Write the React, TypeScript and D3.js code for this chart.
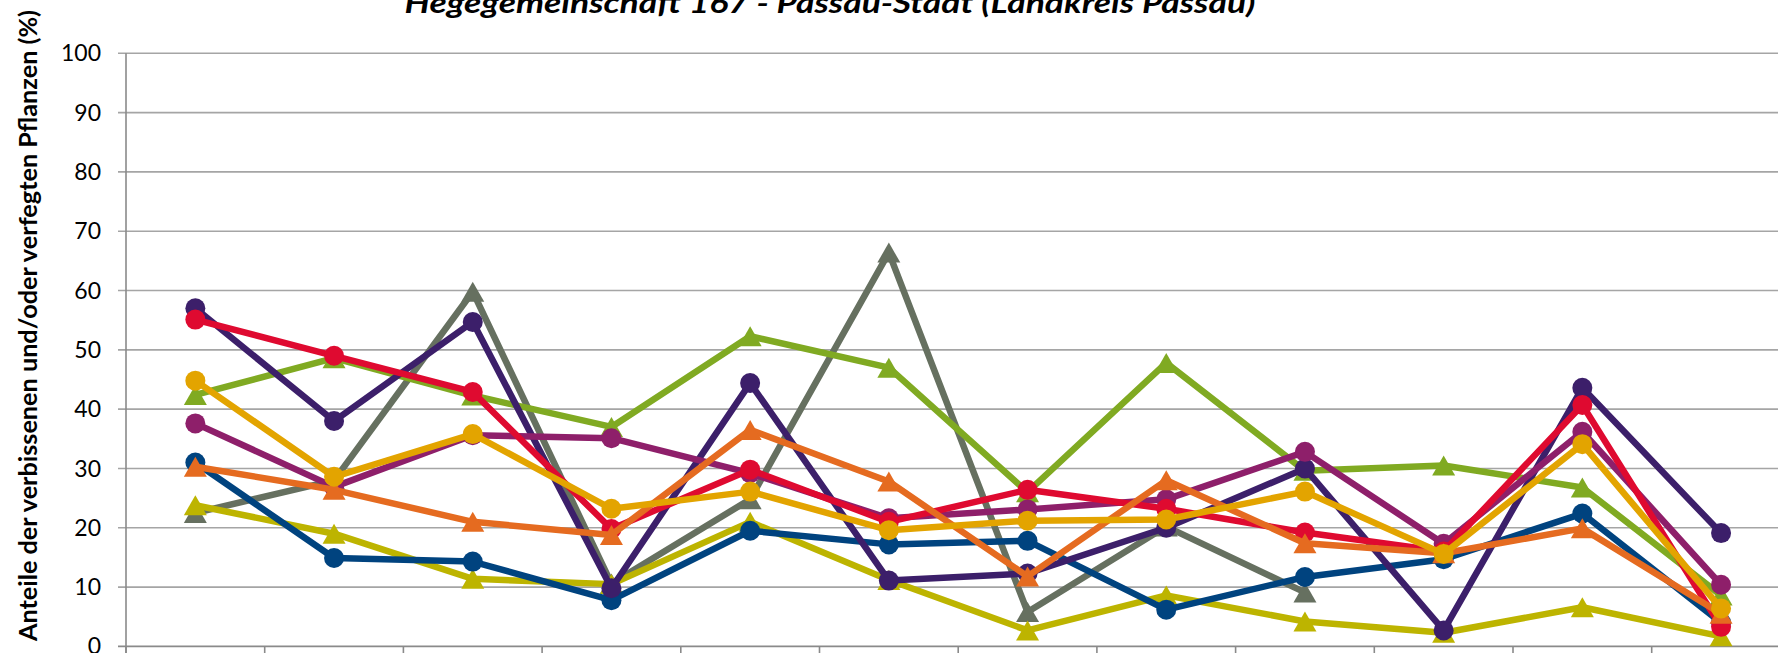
import * as d3 from 'd3';
import { useEffect, useRef } from 'react';

const categories = ['1991', '1994', '1997', '2000', '2003', '2006', '2009', '2012', '2015', '2018', '2021', '2024'];
const yTicks = [0, 10, 20, 30, 40, 50, 60, 70, 80, 90, 100];

// series, in Excel drawing order (later ones on top)
const grayGreen = [22.5, 28, 59.8, 10.6, 24.8, 66.4, 5.8, 20.2, 9.1, null, null, null];
const yellow = [23.8, 19, 11.4, 10.5, 21, 11.2, 2.7, 8.6, 4.2, 2.3, 6.6, 1.7];
const green = [42.4, 48.6, 42.3, 37, 52.3, 47, 26, 47.8, 29.6, 30.5, 26.8, 8.6];
const blue = [31, 14.9, 14.3, 7.8, 19.5, 17.2, 17.8, 6.2, 11.7, 14.7, 22.4, 4];
const darkPurple = [57, 38, 54.7, 9.8, 44.4, 11.1, 12.3, 20, 30, 2.7, 43.6, 19.1];
const magenta = [37.6, 26.9, 35.6, 35.1, 29.2, 21.6, 23.1, 24.8, 32.8, 17.3, 36.2, 10.4];
const red = [55.1, 49, 42.9, 19.8, 29.8, 21, 26.4, 23.2, 19.2, 16, 40.7, 3.3];
const orange = [30.3, 26.4, 21, 18.8, 36.5, 27.8, 11.8, 28, 17.4, 15.7, 19.9, 5.5];
const gold = [44.8, 28.6, 35.8, 23.2, 26.1, 19.6, 21.2, 21.4, 26.1, 15.6, 34.1, 6.4];

const series = [
    { values: grayGreen, color: '#667060', marker: 'triangle' },
    { values: yellow, color: '#bdb400', marker: 'triangle' },
    { values: green, color: '#80aa22', marker: 'triangle' },
    { values: blue, color: '#00437f', marker: 'circle' },
    { values: darkPurple, color: '#3c1f6a', marker: 'circle' },
    { values: magenta, color: '#8e1f6a', marker: 'circle' },
    { values: red, color: '#df0a30', marker: 'circle' },
    { values: orange, color: '#e56b20', marker: 'triangle' },
    { values: gold, color: '#e3a400', marker: 'circle' },
];

const title = 'Hegegemeinschaft 167 - Passau-Stadt (Landkreis Passau)';
const yLabel = 'Anteile der verbissenen und/oder verfegten Pflanzen (%)';

const width = 1778;
const height = 653;
const plot = { left: 126, top: 53.3, bottom: 646.4, bandWidth: 138.7 };

function App() {
    const ref = useRef<SVGSVGElement>(null);

    useEffect(() => {
        const svg = d3.select(ref.current);
        svg.selectAll('*').remove();

        const x = d3.scaleBand().domain(categories)
            .range([plot.left, plot.left + plot.bandWidth * categories.length]);
        const y = d3.scaleLinear().domain([0, 100]).range([plot.bottom, plot.top]);
        const xMax = plot.left + plot.bandWidth * categories.length;

        // gridlines
        svg.append('g').selectAll('line').data(yTicks.filter(t => t > 0)).enter().append('line')
            .attr('x1', plot.left - 8).attr('x2', xMax)
            .attr('y1', d => y(d)).attr('y2', d => y(d))
            .attr('stroke', '#a5a5a5').attr('stroke-width', 1.6);

        // axes
        svg.append('line').attr('x1', plot.left).attr('x2', plot.left)
            .attr('y1', y(100)).attr('y2', y(0) + 8)
            .attr('stroke', '#8a8a8a').attr('stroke-width', 1.6);
        svg.append('line').attr('x1', plot.left - 8).attr('x2', xMax)
            .attr('y1', y(0)).attr('y2', y(0))
            .attr('stroke', '#8a8a8a').attr('stroke-width', 1.6);

        // x tick marks at band boundaries
        const bounds = categories.map(c => x(c) as number).concat([xMax]);
        svg.append('g').selectAll('line').data(bounds).enter().append('line')
            .attr('x1', d => d).attr('x2', d => d)
            .attr('y1', y(0)).attr('y2', y(0) + 8)
            .attr('stroke', '#8a8a8a').attr('stroke-width', 1.6);

        // y tick labels
        svg.append('g').selectAll('text').data(yTicks).enter().append('text')
            .attr('x', 101).attr('y', d => y(d))
            .attr('dy', '0.35em')
            .attr('text-anchor', 'end')
            .attr('font-family', 'Lato, sans-serif')
            .attr('font-size', 23)
            .attr('fill', '#000')
            .text(d => d);

        const cx = (i: number) => (x(categories[i]) as number) + x.bandwidth() / 2;
        const line = d3.line<number | null>()
            .defined(d => d !== null)
            .x((_, i) => cx(i))
            .y(d => y(d as number));

        const s = 23;
        const h = 20;
        const tri = d3.path();
        tri.moveTo(0, -h / 2);
        tri.lineTo(s / 2, h / 2);
        tri.lineTo(-s / 2, h / 2);
        tri.closePath();

        series.forEach(ser => {
            const g = svg.append('g');
            g.append('path')
                .attr('d', line(ser.values))
                .attr('fill', 'none')
                .attr('stroke', ser.color)
                .attr('stroke-width', 6.5)
                .attr('stroke-linejoin', 'round');
            const pts = ser.values.map((v, i) => ({ v, i })).filter(p => p.v !== null);
            if (ser.marker === 'circle') {
                g.selectAll('circle').data(pts).enter().append('circle')
                    .attr('cx', p => cx(p.i))
                    .attr('cy', p => y(p.v as number))
                    .attr('r', 10)
                    .attr('fill', ser.color);
            } else {
                g.selectAll('path.m').data(pts).enter().append('path')
                    .attr('class', 'm')
                    .attr('d', tri.toString())
                    .attr('transform', p => `translate(${cx(p.i)},${y(p.v as number)})`)
                    .attr('fill', ser.color);
            }
        });

        // title
        svg.append('text')
            .attr('x', 830).attr('y', 13)
            .attr('text-anchor', 'middle')
            .attr('font-family', 'Lato, sans-serif')
            .attr('font-weight', 'bold')
            .attr('font-style', 'italic')
            .attr('font-size', 29)
            .attr('textLength', 851)
            .attr('lengthAdjust', 'spacingAndGlyphs')
            .text(title);

        // y axis label
        svg.append('text')
            .attr('transform', `translate(36.5, 325.5) rotate(-90)`)
            .attr('text-anchor', 'middle')
            .attr('font-family', 'Lato, sans-serif')
            .attr('font-weight', 'bold')
            .attr('font-size', 24)
            .attr('textLength', 631)
            .attr('lengthAdjust', 'spacingAndGlyphs')
            .text(yLabel);
    }, []);

    return <div style={{ position: 'absolute', left: 0, top: 0 }}>
        <svg ref={ref} width={width} height={height} style={{ display: 'block', background: '#fff' }}></svg>
    </div>;
}

export default App;
